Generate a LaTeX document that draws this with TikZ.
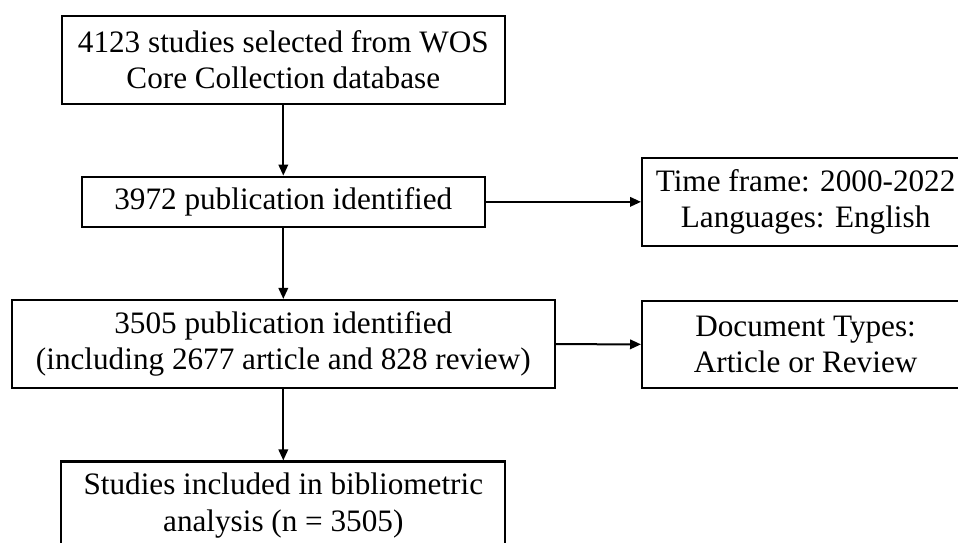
\documentclass[tikz,border=0pt]{standalone}
\usepackage{fontspec}
\setmainfont{Liberation Serif}
\usetikzlibrary{arrows.meta}
\begin{document}
\begin{tikzpicture}[x=1pt,y=-1pt,
  box/.style={draw, line width=2.2pt, inner sep=0pt, align=center,
    font=\fontsize{31.2}{36.3}\selectfont},
  arr/.style={line width=2pt, -{Triangle[length=11pt,width=9.5pt]}}]
\useasboundingbox (0,0) rectangle (958,543);
\clip (0,0) rectangle (958,543);
\node[box, minimum width=443.3pt, minimum height=88.3pt] (b1) at (283.3,59.85)
  {4123 studies selected from WOS\\Core Collection database};
\node[box, minimum width=403.3pt, minimum height=50.3pt] (b2) at (283.3,201.85)
  {3972 publication identified};
\node[box, minimum width=327pt, minimum height=88.3pt] (b3) at (805.6,201.85)
  {Time frame: 2000-2022\\Languages: English};
\node[box, minimum width=543.3pt, minimum height=88.3pt] (b4) at (283.3,344.15)
  {3505 publication identified\\(including 2677 article and 828 review)};
\node[box, minimum width=327pt, minimum height=86.7pt] (b5) at (805.6,344.35)
  {Document Types:\\Article or Review};
\node[box, minimum width=444pt, minimum height=88pt] (b6) at (283.3,505.5)
  {Studies included in bibliometric\\analysis (n = 3505)};
\draw[arr] (b1.south) -- (b2.north);
\draw[arr] (b2.south) -- (b4.north);
\draw[arr] (b4.south) -- (b6.north);
\draw[arr] (b2.east) -- (b3.west);
\draw[arr] (b4.east) -- (b5.west);
\end{tikzpicture}
\end{document}
